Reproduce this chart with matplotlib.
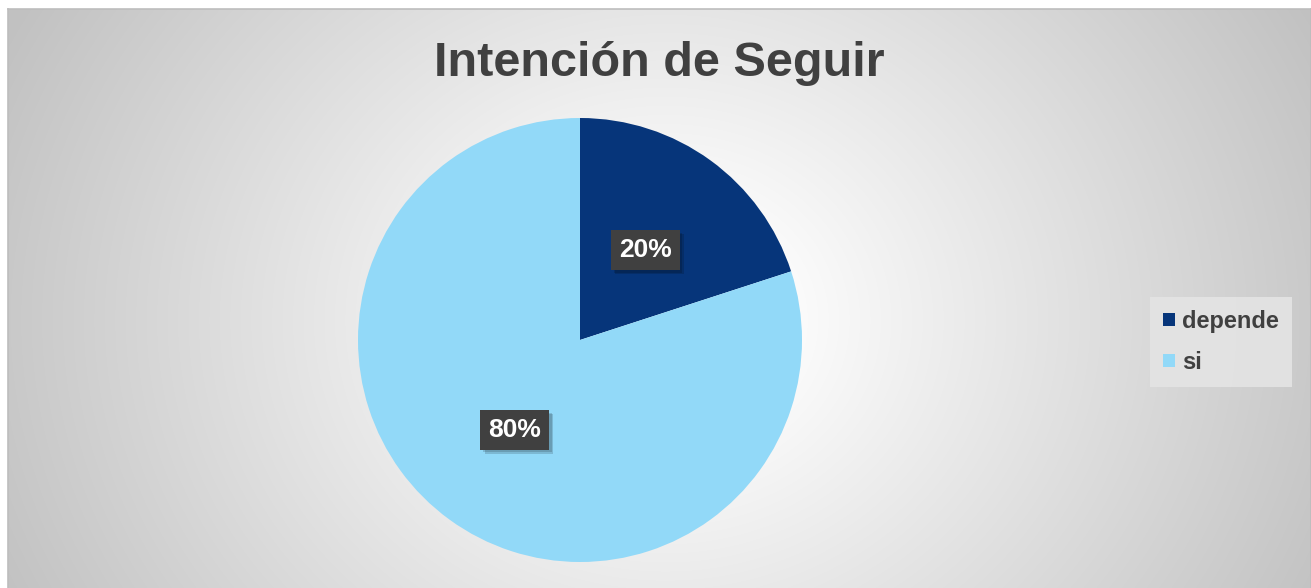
#!/usr/bin/env python3

import numpy as np
import matplotlib
matplotlib.use("Agg")
import matplotlib.pyplot as plt
import matplotlib.patheffects as pe

# chart data
categories = ["depende", "si"]
shares = [20, 80]
slice_colors = ["#06357A", "#92D9F8"]
title_text = "Intención de Seguir"

WIDTH, HEIGHT = 1311, 588


def pixel_box(left, top, width, height):
    # pixel rectangle (top-left origin) -> figure fraction
    return [left / WIDTH, 1 - (top + height) / HEIGHT, width / WIDTH, height / HEIGHT]


def draw_background(fig):
    bg = fig.add_axes(pixel_box(8, 9, 1303, 579))
    yy, xx = np.mgrid[9:588, 8:1311]
    r = np.hypot(xx - 665, (yy - 320) * 1.15)
    shade = 1 - 0.24 * np.clip((r - 90) / 640, 0, 1)
    rgb = np.dstack([shade, shade, shade])
    bg.imshow(rgb, aspect="auto", interpolation="bilinear")
    bg.set_xticks([])
    bg.set_yticks([])
    for name, spine in bg.spines.items():
        spine.set_color("#bdbdbd")
        spine.set_linewidth(1.2)
    bg.spines["bottom"].set_visible(False)
    return bg


fig = plt.figure(figsize=(WIDTH / 100, HEIGHT / 100), dpi=100)
fig.patch.set_facecolor("white")
plt.rcParams["font.family"] = ["Liberation Sans", "DejaVu Sans"]

draw_background(fig)

fig.text(659 / WIDTH, 1 - 76 / HEIGHT, title_text, ha="center", va="baseline",
         fontsize=35, fontweight="bold", color="#404040")

ax = fig.add_axes(pixel_box(358, 118, 444, 444))
ax.set_facecolor("none")
wedges, texts, pcts = ax.pie(shares, colors=slice_colors, startangle=90, counterclock=False,
                             radius=1, autopct="%1.0f%%", pctdistance=0.5,
                             wedgeprops=dict(linewidth=0))
ax.set_xlim(-1, 1)
ax.set_ylim(-1, 1)
ax.set_aspect("equal")
ax.axis("off")

for t in pcts:
    t.set_color("white")
    t.set_fontsize(19)
    t.set_fontweight("bold")
    t.set_bbox(dict(boxstyle="square,pad=0.3", facecolor="#404040", edgecolor="none"))
    t.get_bbox_patch().set_path_effects([
        pe.withSimplePatchShadow(offset=(3, -3), shadow_rgbFace="#000000", alpha=0.15),
        pe.withSimplePatchShadow(offset=(2, -2), shadow_rgbFace="#000000", alpha=0.15),
        pe.Normal()])

leg = fig.legend(wedges, categories, loc="upper left", bbox_to_anchor=(1150 / WIDTH, 1 - 297 / HEIGHT),
                 bbox_transform=fig.transFigure, borderaxespad=0, frameon=True, fancybox=False,
                 prop=dict(size=17, weight="bold"), labelcolor="#404040",
                 handlelength=0.5, handleheight=0.5, handletextpad=0.3, labelspacing=0.75,
                 borderpad=0.55)
leg.get_frame().set_facecolor("#e3e3e3")
leg.get_frame().set_edgecolor("none")
leg.get_frame().set_alpha(0.95)

fig.savefig("out.png", dpi=100)
